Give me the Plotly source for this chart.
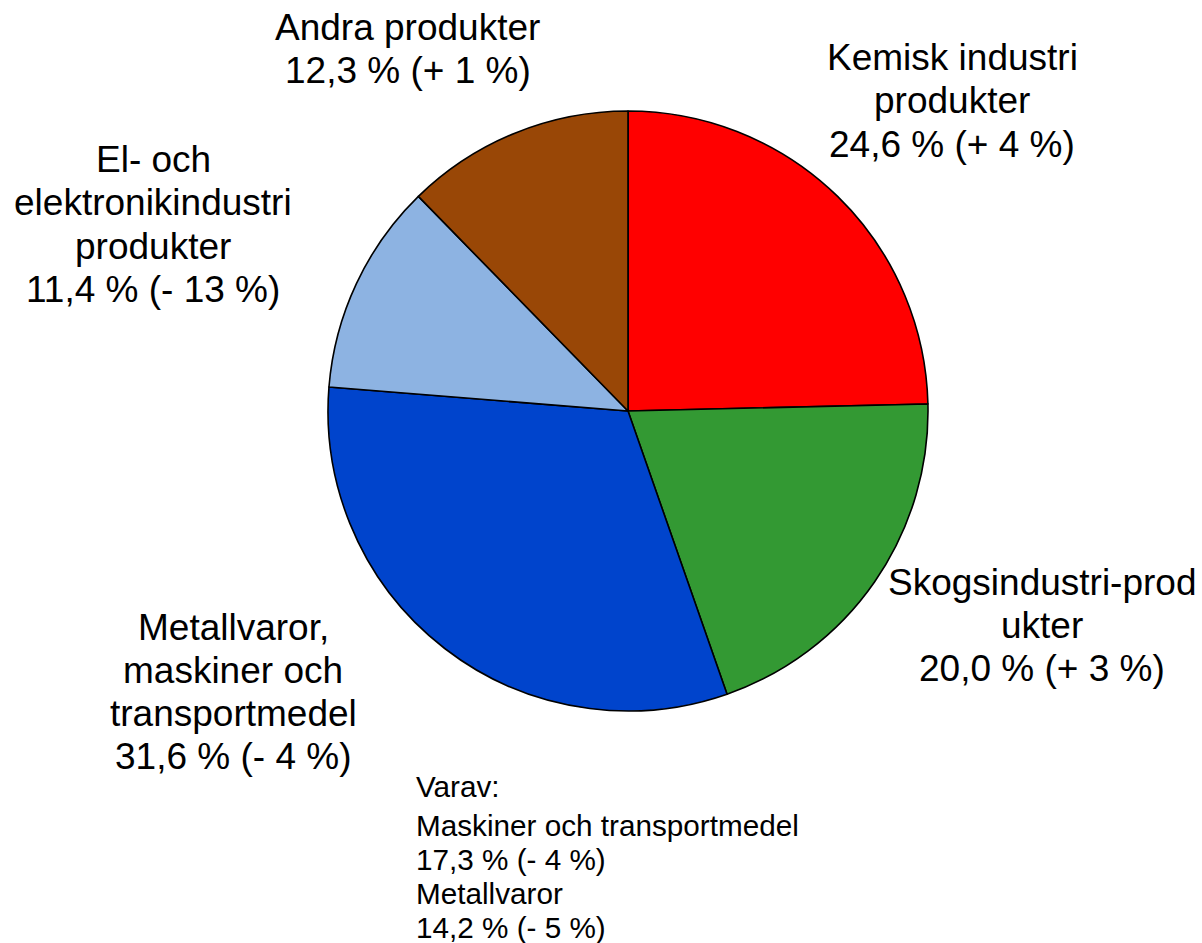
import plotly.graph_objects as go

W, H = 1202, 943

# Data
categories = ["Kemisk industri produkter", "Skogsindustri-produkter",
              "Metallvaror, maskiner och transportmedel",
              "El- och elektronikindustri produkter", "Andra produkter"]
shares = [24.6, 20.0, 31.6, 11.4, 12.3]
changes = ["+ 4", "+ 3", "- 4", "- 13", "+ 1"]
colors = ["#FF0000", "#339933", "#0044CC", "#8DB3E2", "#994706"]

# label lines (name part) per category
name_lines = [
    ["Kemisk industri", "produkter"],
    ["Skogsindustri-prod", "ukter"],
    ["Metallvaror,", "maskiner och", "transportmedel"],
    ["El- och", "elektronikindustri", "produkter"],
    ["Andra produkter"],
]
sub_names = ["Maskiner och transportmedel", "Metallvaror"]
sub_shares = [17.3, 14.2]
sub_changes = ["- 4", "- 5"]


def fmt(v, c):
    return f"{v:.1f}".replace(".", ",") + f" % ({c} %)"


def px(x):
    return x / W


def py(y):
    return 1 - y / H


# Layout positions (pixels)
cx, cy, r = 628, 411, 300
label_pos = [  # x center, y of first line
    (952, 58),
    (1042, 582),
    (233, 627),
    (153, 160),
    (408, 27),
]
line_gap = 43
FONT = "Liberation Sans, Arial, sans-serif"

fig = go.Figure(go.Pie(
    labels=categories, values=shares, sort=False, direction="clockwise",
    rotation=0, textinfo="none", hoverinfo="label+percent",
    marker=dict(colors=colors, line=dict(color="black", width=1.6)),
    domain=dict(x=[px(cx - r), px(cx + r)], y=[py(cy + r), py(cy - r)]),
    showlegend=False,
))

annotations = []
for i, lines in enumerate(name_lines):
    all_lines = lines + [fmt(shares[i], changes[i])]
    x0, y0 = label_pos[i]
    for j, t in enumerate(all_lines):
        annotations.append(dict(
            text=t, x=px(x0), y=py(y0 + j * line_gap), xref="paper", yref="paper",
            xanchor="center", yanchor="middle", showarrow=False, borderpad=0,
            font=dict(family=FONT, size=37, color="black")))

sub_lines = ["Varav:"]
for n, v, c in zip(sub_names, sub_shares, sub_changes):
    sub_lines += [n, fmt(v, c)]
sub_y = [786, 825, 859, 893, 927]
for t, y in zip(sub_lines, sub_y):
    annotations.append(dict(
        text=t, x=px(415), y=py(y), xref="paper", yref="paper",
        xanchor="left", yanchor="middle", showarrow=False, borderpad=0,
        font=dict(family=FONT, size=29.7, color="black")))

fig.update_layout(
    width=W, height=H, margin=dict(l=0, r=0, t=0, b=0),
    paper_bgcolor="white", plot_bgcolor="white",
    annotations=annotations,
)

fig.write_html(
    "out.html",
    config={"displayModeBar": False},
    post_script="document.body.style.margin='0';document.body.style.overflow='hidden';",
)
